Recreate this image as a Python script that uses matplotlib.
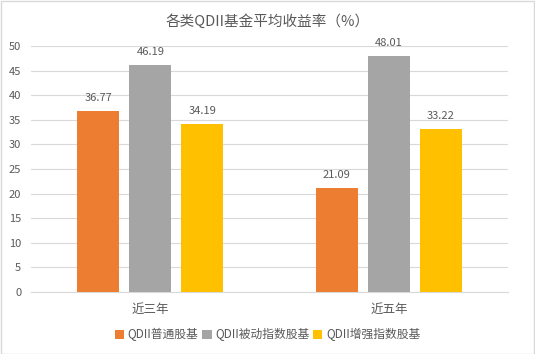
import numpy as np
import matplotlib.pyplot as plt

plt.rcParams['font.family'] = ['Noto Sans CJK SC', 'DejaVu Sans']

categories = ['近三年', '近五年']
series_names = ['QDII普通股基', 'QDII被动指数股基', 'QDII增强指数股基']
values = [
    [36.77, 21.09],
    [46.19, 48.01],
    [34.19, 33.22],
]
colors = ['#ED7D31', '#A5A5A5', '#FFC000']
text_color = '#595959'

fig = plt.figure(figsize=(5.35, 3.54), dpi=100)
ax = fig.add_axes([0.058, 0.175, 0.892, 0.695])

x = np.arange(len(categories))
width = 0.176
step = 0.218
for i, (name, vals) in enumerate(zip(series_names, values)):
    pos = x + (i - 1) * step
    bars = ax.bar(pos, vals, width, color=colors[i], label=name, zorder=3)
    for b, v in zip(bars, vals):
        ax.text(b.get_x() + b.get_width() / 2, v + 1.6, f'{v:.2f}',
                ha='center', va='bottom', fontsize=8, color=text_color)

ax.set_xlim(-0.5, 1.5)
ax.set_ylim(0, 50)
ax.set_yticks(np.arange(0, 51, 5))
ax.set_xticks(x)
ax.set_xticklabels(categories)
ax.grid(axis='y', color='#D9D9D9', linewidth=0.8, zorder=0)
for s in ['top', 'right', 'left']:
    ax.spines[s].set_visible(False)
ax.spines['bottom'].set_color('#D9D9D9')
ax.tick_params(axis='both', length=0, colors=text_color, labelsize=8)
ax.tick_params(axis='x', pad=8, labelsize=9)
ax.tick_params(axis='y', pad=7)

fig.suptitle('各类QDII基金平均收益率（%）', y=0.96, fontsize=10.5, color=text_color)
fig.legend(loc='center', bbox_to_anchor=(0.5, 0.055), ncol=3, frameon=False,
           fontsize=8.5, labelcolor=text_color, handlelength=0.8, handleheight=0.8,
           handletextpad=0.3, columnspacing=0.3)

fig.patches.append(plt.Rectangle((0.001, 0.001), 0.997, 0.997, transform=fig.transFigure,
                                 fill=False, edgecolor='#D9D9D9', linewidth=1))
fig.savefig('out.png', dpi=100)
